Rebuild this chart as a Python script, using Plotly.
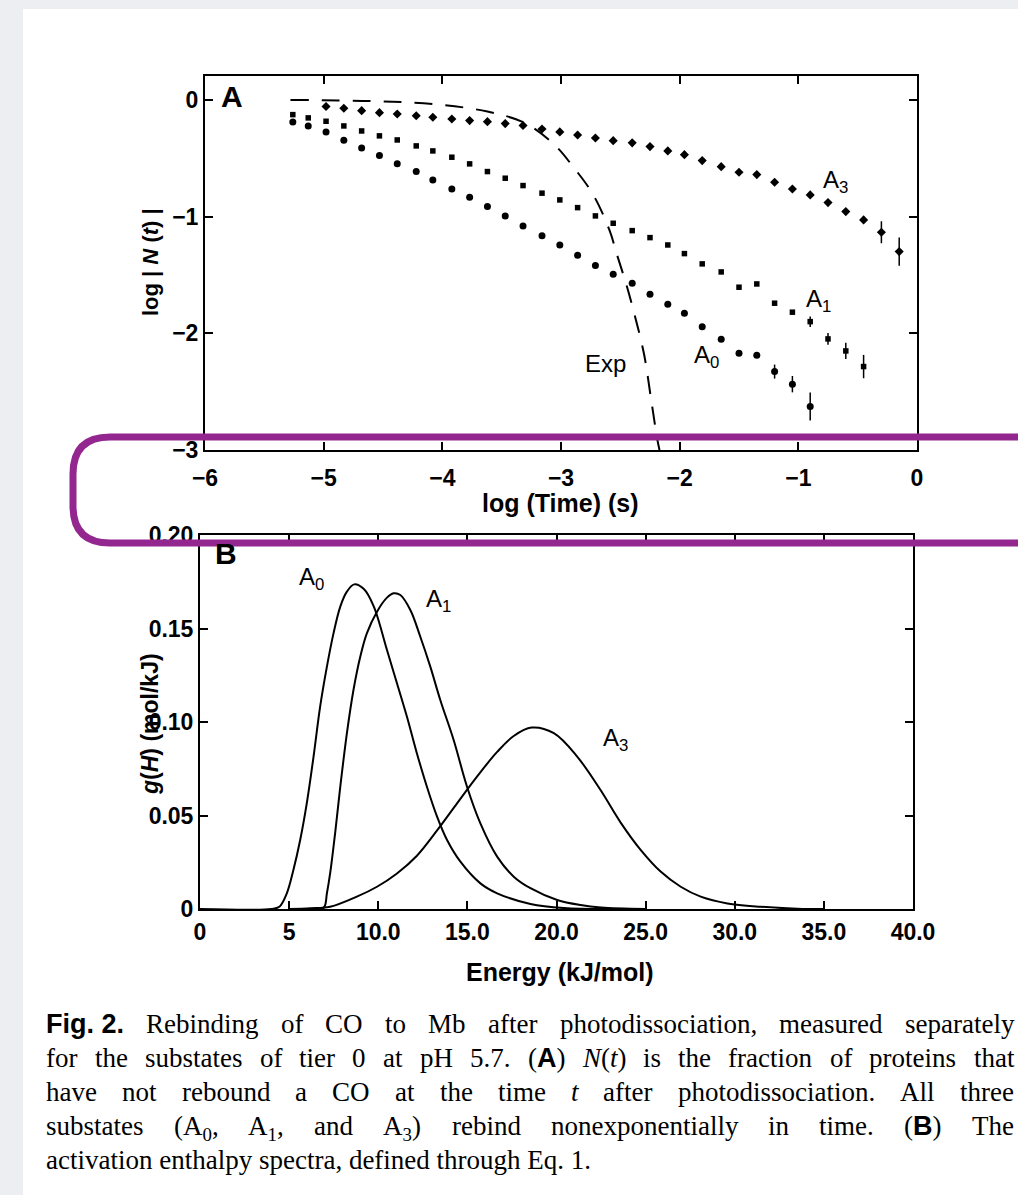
import re
import plotly.graph_objects as go

W, H = 1018, 1195

# ---------------- Panel A data (log time, log N) ----------------
log_time = [-5.26, -5.13, -4.98, -4.83, -4.68, -4.53, -4.38, -4.22, -4.08, -3.92,
            -3.77, -3.62, -3.47, -3.32, -3.16, -3.01, -2.86, -2.71, -2.56, -2.40,
            -2.25, -2.10, -1.96, -1.81, -1.65, -1.50, -1.35, -1.20, -1.05, -0.90,
            -0.75, -0.60, -0.45, -0.30, -0.15]

a3_logN = [None, None, -0.057, -0.071, -0.092, -0.109, -0.120, -0.135, -0.148, -0.163,
           -0.177, -0.186, -0.203, -0.219, -0.249, -0.274, -0.300, -0.326, -0.349, -0.368,
           -0.400, -0.437, -0.469, -0.520, -0.572, -0.620, -0.640, -0.705, -0.763, -0.814,
           -0.880, -0.957, -1.028, -1.134, -1.300]
a3_err = [0] * 32 + [0.03, 0.094, 0.12]

a1_logN = [-0.126, -0.154, -0.183, -0.223, -0.266, -0.308, -0.343, -0.394, -0.437, -0.491,
           -0.548, -0.614, -0.671, -0.734, -0.799, -0.857, -0.923, -0.994, -1.057, -1.120,
           -1.180, -1.243, -1.317, -1.405, -1.474, -1.605, -1.577, -1.742, -1.819, -1.900,
           -2.048, -2.151, -2.285]
a1_err = [0] * 29 + [0.045, 0.05, 0.07, 0.10]

a0_logN = [-0.189, -0.223, -0.274, -0.345, -0.411, -0.477, -0.548, -0.614, -0.686, -0.763,
           -0.834, -0.914, -0.994, -1.080, -1.165, -1.243, -1.332, -1.418, -1.494, -1.571,
           -1.665, -1.751, -1.828, -1.943, -2.051, -2.171, -2.188, -2.328, -2.436, -2.628]
a0_err = [0] * 27 + [0.06, 0.07, 0.12]

exp_logt = [-5.28, -4.6, -4.08, -3.62, -3.30, -3.05, -2.90, -2.73, -2.59, -2.53,
            -2.45, -2.38, -2.30, -2.24, -2.19, -2.17]
exp_logN = [0.0, -0.01, -0.035, -0.10, -0.20, -0.39, -0.57, -0.81, -1.12, -1.32,
            -1.58, -1.84, -2.18, -2.57, -2.90, -3.0]

# ---------------- Panel B data (energy, g(H)) ----------------
a0_E = [0.0, 4.0, 4.45, 4.87, 5.24, 5.62, 5.99, 6.37, 6.74, 7.12, 7.49, 7.87, 8.24, 8.65,
        9.18, 9.74, 10.49, 11.05, 11.61, 12.17, 12.73, 13.30, 13.86, 14.61, 15.73, 16.67,
        18.54, 20.41, 23.0]
a0_g = [0.0, 0.0, 0.0012, 0.0084, 0.0209, 0.0369, 0.0565, 0.0815, 0.1082, 0.1296, 0.1474,
        0.1617, 0.1697, 0.1736, 0.1712, 0.1620, 0.1385, 0.1207, 0.1028, 0.0832, 0.0654,
        0.0494, 0.0369, 0.0253, 0.0137, 0.0084, 0.0027, 0.0005, 0.0]

a1_E = [6.4, 6.95, 7.12, 7.30, 7.58, 7.87, 8.24, 8.61, 8.99, 9.36, 9.93, 10.49, 10.86,
        11.24, 11.80, 12.36, 12.92, 13.48, 14.23, 14.98, 15.73, 16.67, 17.60, 18.54, 20.04,
        21.35, 22.5, 25.0]
a1_g = [0.0, 0.0008, 0.0084, 0.0190, 0.0405, 0.0654, 0.0939, 0.1171, 0.1349, 0.1474,
        0.1590, 0.1665, 0.1688, 0.1679, 0.1599, 0.1456, 0.1296, 0.1118, 0.0904, 0.0654,
        0.0458, 0.0280, 0.0173, 0.0111, 0.0048, 0.0021, 0.0008, 0.0]

a3_E = [5.0, 6.2, 7.30, 8.80, 9.93, 11.05, 12.17, 13.30, 14.42, 15.54, 16.67, 17.60, 18.60,
        19.85, 21.16, 22.47, 23.60, 24.72, 25.84, 26.97, 28.09, 29.59, 31.46, 33.5, 35.0]
a3_g = [0.0, 0.0004, 0.0012, 0.0066, 0.0119, 0.0190, 0.0285, 0.0420, 0.0565, 0.0708, 0.0840,
        0.0925, 0.0970, 0.0940, 0.0815, 0.0636, 0.0462, 0.0316, 0.0200, 0.0119, 0.0066,
        0.0030, 0.0012, 0.0002, 0.0]

# ---------------- Tick labels ----------------
a_xticks = [-6, -5, -4, -3, -2, -1, 0]
a_xtext = ["−6", "−5", "−4", "−3", "−2", "−1", "0"]
a_yticks = [-3, -2, -1, 0]
a_ytext = ["−3", "−2", "−1", "0"]
b_xticks = [0, 5, 10, 15, 20, 25, 30, 35, 40]
b_xtext = ["0", "5", "10.0", "15.0", "20.0", "25.0", "30.0", "35.0", "40.0"]
b_yticks = [0, 0.05, 0.10, 0.15, 0.20]
b_ytext = ["0", "0.05", "0.10", "0.15", "0.20"]


def BS(s):
    return '<span style="font-family:Liberation Sans;font-weight:bold">' + s + '</span>'


caption_words = [
    [BS("Fig. 2."), "Rebinding", "of", "CO", "to", "Mb", "after", "photodissociation,",
     "measured", "separately"],
    ["for", "the", "substates", "of", "tier", "0", "at", "pH", "5.7.", "(" + BS("A") + ")",
     "<i>N</i>(<i>t</i>)", "is", "the", "fraction", "of", "proteins", "that"],
    ["have", "not", "rebound", "a", "CO", "at", "the", "time", "<i>t</i>", "after",
     "photodissociation.", "All", "three"],
    ["substates", "(A<sub>0</sub>,", "A<sub>1</sub>,", "and", "A<sub>3</sub>)", "rebind",
     "nonexponentially", "in", "time.", "(" + BS("B") + ")", "The"],
    ["activation enthalpy spectra, defined through Eq. 1."],
]

# Times-compatible advance widths (1/1000 em) used to justify the caption lines
TIMES = {' ': 250, '(': 333, ')': 333, ',': 250, '.': 250, '0': 500, '1': 500, '2': 500,
         '3': 500, '5': 500, '7': 500,
         'A': 722, 'B': 667, 'C': 667, 'E': 611, 'H': 722, 'M': 889, 'N': 722, 'O': 722,
         'R': 667, 'T': 611,
         'a': 444, 'b': 500, 'c': 444, 'd': 500, 'e': 444, 'f': 333, 'g': 500, 'h': 500,
         'i': 278, 'j': 278, 'k': 500, 'l': 278, 'm': 778, 'n': 500, 'o': 500, 'p': 500,
         'q': 500, 'r': 333, 's': 389, 't': 278, 'u': 500, 'v': 500, 'w': 722, 'x': 500,
         'y': 500, 'z': 444}
TIMES_I = dict(TIMES, N=667, t=278)
HELV_B = {'F': 611, 'i': 278, 'g': 611, '.': 278, ' ': 278, '2': 556, 'A': 722, 'B': 722}


def text_width(markup, size):
    w = 0.0
    sans = ital = sub = False
    for tok in re.split(r'(<[^>]+>)', markup):
        if tok.startswith('<'):
            t = tok.lower()
            if t.startswith('<span'):
                sans = True
            elif t == '</span>':
                sans = False
            elif t == '<i>':
                ital = True
            elif t == '</i>':
                ital = False
            elif t == '<sub>':
                sub = True
            elif t == '</sub>':
                sub = False
            continue
        table = HELV_B if sans else (TIMES_I if ital else TIMES)
        for ch in tok:
            w += table.get(ch, 500) / 1000.0 * size * (0.7 if sub else 1.0)
    return w


def px(x):
    return x / W


def py(y):
    return 1 - y / H


SANS = "Liberation Sans, Arial, sans-serif"
SERIF = "Liberation Serif, Times New Roman, serif"

fig = go.Figure()

# Panel A
fig.add_trace(go.Scatter(x=exp_logt, y=exp_logN, mode="lines",
                         line=dict(color="black", width=2, dash="18px,13px", shape="spline"),
                         xaxis="x", yaxis="y", showlegend=False, hoverinfo="skip"))
fig.add_trace(go.Scatter(x=log_time, y=a3_logN, mode="markers",
                         marker=dict(symbol="diamond", size=7, color="black"),
                         error_y=dict(type="data", array=a3_err, width=0, thickness=1.5, color="black"),
                         xaxis="x", yaxis="y", showlegend=False))
fig.add_trace(go.Scatter(x=log_time[:len(a1_logN)], y=a1_logN, mode="markers",
                         marker=dict(symbol="square", size=5.5, color="black"),
                         error_y=dict(type="data", array=a1_err, width=0, thickness=1.5, color="black"),
                         xaxis="x", yaxis="y", showlegend=False))
fig.add_trace(go.Scatter(x=log_time[:len(a0_logN)], y=a0_logN, mode="markers",
                         marker=dict(symbol="circle", size=7, color="black"),
                         error_y=dict(type="data", array=a0_err, width=0, thickness=1.5, color="black"),
                         xaxis="x", yaxis="y", showlegend=False))

# Panel B
for E, g in ((a0_E, a0_g), (a1_E, a1_g), (a3_E, a3_g)):
    fig.add_trace(go.Scatter(x=E, y=g, mode="lines",
                             line=dict(color="black", width=2, shape="spline", smoothing=1.0),
                             xaxis="x2", yaxis="y2", showlegend=False, hoverinfo="skip"))

tickfont = dict(family=SANS, size=23, color="black", weight="bold")
common = dict(showline=True, linecolor="black", linewidth=2, mirror="ticks",
              ticks="inside", ticklen=8, tickwidth=1.5, tickcolor="black",
              showgrid=False, zeroline=False, tickfont=tickfont, tickmode="array",
              automargin=False)

fig.update_layout(
    width=W, height=H, autosize=False,
    margin=dict(l=0, r=0, t=0, b=0, pad=0, autoexpand=False),
    paper_bgcolor="#eceef1", plot_bgcolor="white",
    xaxis=dict(domain=[px(205), px(917)], range=[-6, 0], anchor="y",
               tickvals=a_xticks, ticktext=a_xtext, ticklabelstandoff=6, **common),
    yaxis=dict(domain=[py(450), py(76)], range=[-3, 0.205], anchor="x",
               tickvals=a_yticks, ticktext=a_ytext, ticklabelstandoff=0, **common),
    xaxis2=dict(domain=[px(200), px(913)], range=[0, 40], anchor="y2",
                tickvals=b_xticks, ticktext=b_xtext, ticklabelstandoff=1, **common),
    yaxis2=dict(domain=[py(909), py(535)], range=[0, 0.2], anchor="x2",
                tickvals=b_yticks, ticktext=b_ytext, ticklabelstandoff=0, **common),
)

shapes = [
    dict(type="rect", xref="paper", yref="paper", x0=px(23), x1=1.0, y0=0.0, y1=py(9),
         fillcolor="white", line=dict(width=0), layer="below"),
    dict(type="path", xref="paper", yref="paper", layer="above",
         path=(f"M {px(1030)} {py(437)} L {px(110)} {py(437)} "
               f"Q {px(73)} {py(437)} {px(73)} {py(474)} L {px(73)} {py(506)} "
               f"Q {px(73)} {py(543)} {px(110)} {py(543)} L {px(1030)} {py(543)}"),
         line=dict(color="#93278F", width=7)),
]
fig.update_layout(shapes=shapes)

ann = []


def label(text, x, y, size=24, family=SANS, xanchor="center", yanchor="middle", angle=0, bold=False):
    ann.append(dict(text=text, x=px(x), y=py(y), xref="paper", yref="paper",
                    showarrow=False, xanchor=xanchor, yanchor=yanchor, textangle=angle,
                    borderpad=0,
                    font=dict(family=family, size=size, color="black",
                              weight="bold" if bold else "normal")))


# Panel A labels
label("A", 232, 97, size=30, bold=True)
label("A<sub>3</sub>", 835, 182, size=24)
label("A<sub>1</sub>", 818, 300, size=24)
label("A<sub>0</sub>", 706, 356, size=24)
label("Exp", 605, 364, size=24)
label("log (Time) (s)", 560, 503, size=25, bold=True)
label("log | <i>N</i> (<i>t</i>) |", 150, 262, size=22, bold=True, angle=-90)

# Panel B labels
label("B", 226, 553, size=30, bold=True)
label("A<sub>0</sub>", 311, 578, size=24)
label("A<sub>1</sub>", 438, 600, size=24)
label("A<sub>3</sub>", 615, 740, size=24)
label("Energy (kJ/mol)", 560, 972, size=25, bold=True)
label("<i>g</i>(<i>H</i>) (mol/kJ)", 150, 724, size=23, bold=True, angle=-90)

# Caption, justified word by word between x=45 and x=1013 (last line left-aligned)
CAP_SIZE = 27
LEFT, RIGHT = 45, 1013
for i, words in enumerate(caption_words):
    widths = [text_width(wd, CAP_SIZE) for wd in words]
    gap = (RIGHT - LEFT - sum(widths)) / (len(words) - 1) if len(words) > 1 else 0
    x = LEFT
    for wd, wdt in zip(words, widths):
        label(wd, x, 1008 + 34 * i, size=CAP_SIZE, family=SERIF, xanchor="left", yanchor="top")
        x += wdt + gap

fig.update_layout(annotations=ann)

fig.write_html("out.html")
